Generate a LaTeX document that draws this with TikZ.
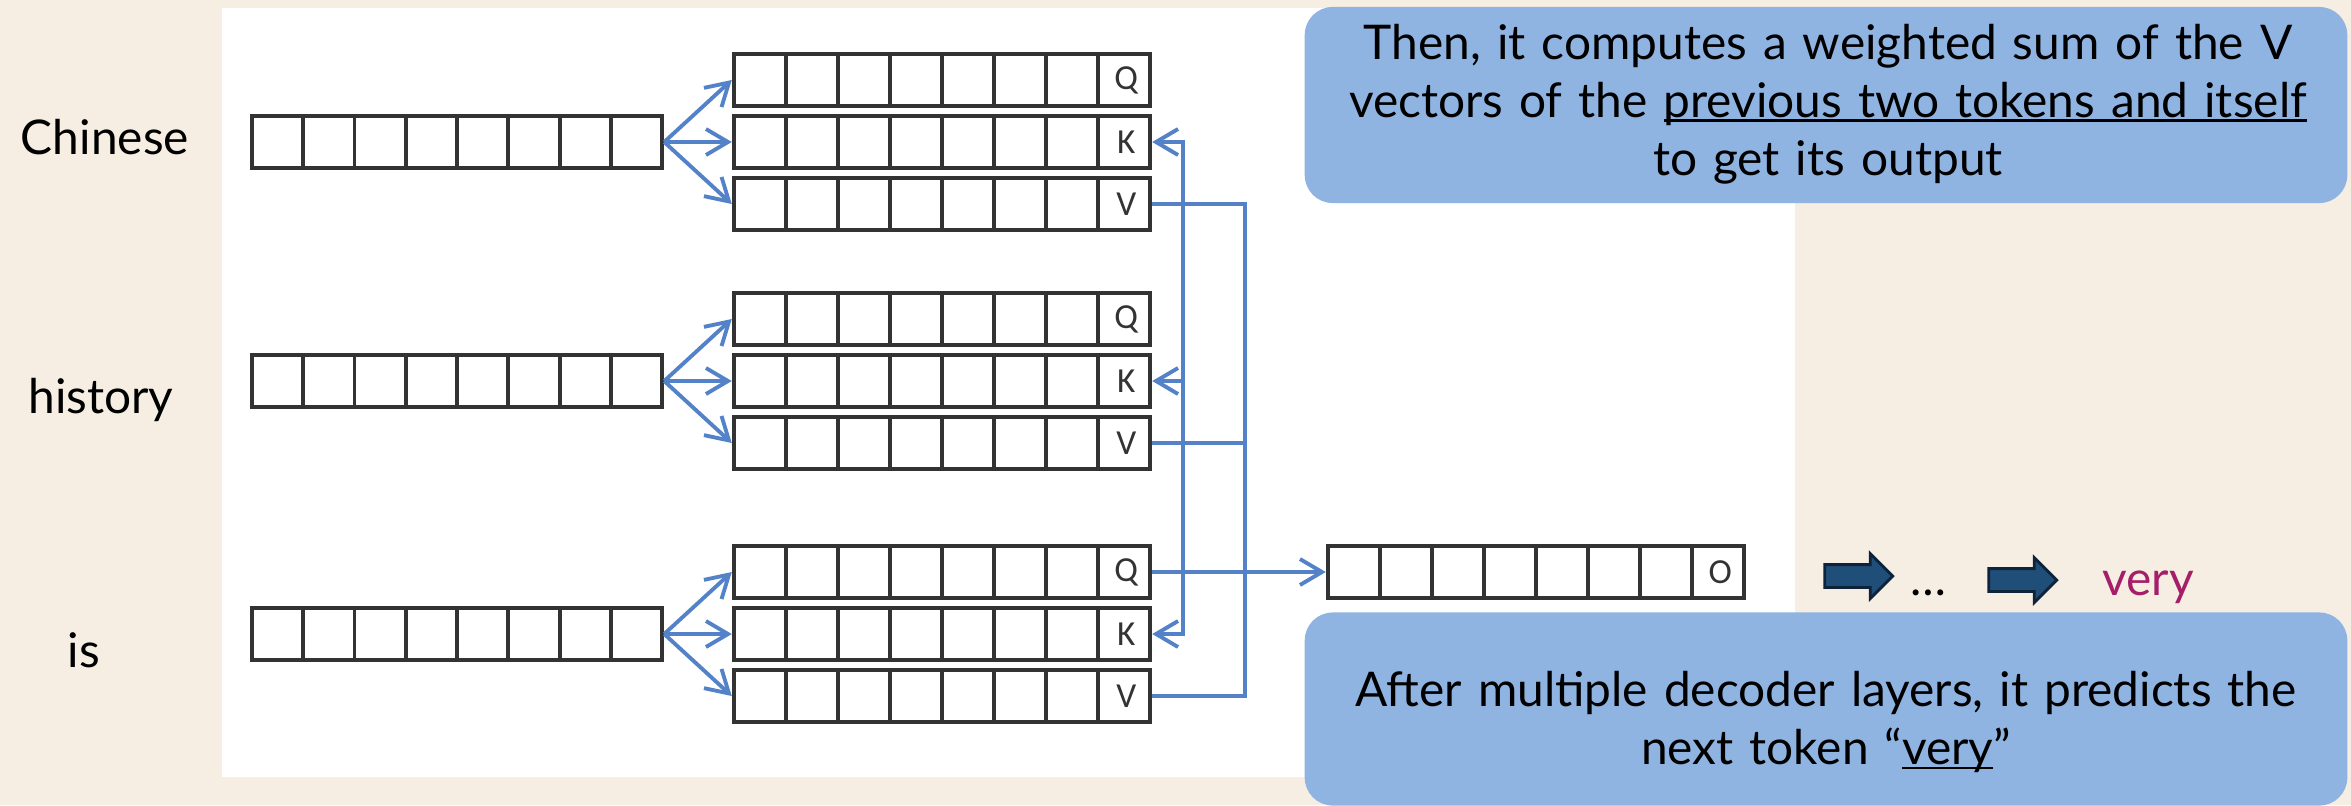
\documentclass[tikz,border=0pt]{standalone}
\usepackage{fontspec}
\setmainfont{Lato}
\newfontfamily\tagfont{Carlito}
\usetikzlibrary{arrows.meta, calc, shapes.arrows}
\definecolor{paper}{RGB}{246,238,226}
\definecolor{noteblue}{RGB}{143,180,226}
\definecolor{linkblue}{RGB}{84,130,200}
\definecolor{arrowblue}{RGB}{31,78,121}
\definecolor{arrowedge}{RGB}{14,34,58}
\definecolor{tokenred}{RGB}{165,30,105}
\newcommand{\txtsize}{\fontsize{13.6pt}{16.5pt}\selectfont}
% thin underline set close to the baseline
\newcommand{\uword}[1]{\setbox0\hbox{#1}\rlap{\rule[-0.09em]{\wd0}{0.045em}}\box0}
\tikzset{%
  >={Straight Barb[length=2.2mm,width=2.6mm]},
  % a vector is a row of eight cells
  vec/.style = {rectangle, draw=black!80, line width=1.2pt, fill=white,
                minimum width=4.16cm, minimum height=0.52cm, inner sep=0pt,
                path picture={\foreach \i in {1,...,7}
                  \draw[line width=1.1pt, black!80]
                    ($(path picture bounding box.south west)!\i/8!(path picture bounding box.south east)$) --
                    ($(path picture bounding box.north west)!\i/8!(path picture bounding box.north east)$);}},
  invec/.style = {vec, minimum width=4.1cm},
  tag/.style = {font=\tagfont\fontsize{10pt}{11pt}\selectfont, text=black!80},
  link/.style = {draw=linkblue, line width=1.1pt},
  word/.style = {font=\txtsize, anchor=base},
  note/.style = {rectangle, rounded corners=0.28cm, fill=noteblue,
                 minimum width=10.42cm, inner sep=0pt},
  notetext/.style = {font=\txtsize, text width=10.3cm, align=center, inner sep=0pt},
  bigarrow/.style = {single arrow, draw=arrowedge, fill=arrowblue, line width=0.8pt,
                     minimum height=0.68cm, single arrow head extend=0.11cm, inner sep=0.1cm},
}

\begin{document}
\begin{tikzpicture}[x=0.01cm, y=-0.01cm]
  \useasboundingbox (0,0) rectangle (2351,805);
  \fill[paper] (0,0) rectangle (2351,805);
  \fill[white] (222,8) rectangle (1795,777);

  % tokens
  \node (w1) [word] at (105,154) {Chinese};
  \node (w2) [word] at (101,413) {history};
  \node (w3) [word] at (84,667) {is};

  % input vectors with their Q, K and V rows
  \foreach \n/\y in {1/142, 2/381, 3/634} {
    \node (in\n) [invec] at (457,\y) {};
    \node (q\n)  [vec] at (942,{\y-62}) {};
    \node (k\n)  [vec] at (942,\y) {};
    \node (v\n)  [vec] at (942,{\y+62}) {};
    \node (tq\n) [tag] at ([xshift=-0.26cm]q\n.east) {Q};
    \node (tk\n) [tag] at ([xshift=-0.26cm]k\n.east) {K};
    \node (tv\n) [tag] at ([xshift=-0.26cm]v\n.east) {V};
    \draw[link, ->] (in\n.east) -- (q\n.west);
    \draw[link, ->] (in\n.east) -- (k\n.west);
    \draw[link, ->] (in\n.east) -- (v\n.west);
  }

  % output vector
  \node (out) [vec] at (1536,572) {};
  \node (to)  [tag] at ([xshift=-0.26cm]out.east) {O};

  % K and V buses
  \coordinate (kbus) at (1183,0);
  \coordinate (vbus) at (1245,0);
  \draw[link, <->] (k1.east) -- (k1.east -| kbus) -- (k3.east -| kbus) -- (k3.east);
  \draw[link, ->]  (k2.east -| kbus) -- (k2.east);
  \draw[link] (v1.east) -- (v1.east -| vbus) -- (v3.east -| vbus) -- (v3.east);
  \draw[link] (v2.east) -- (v2.east -| vbus);
  \draw[link, ->] (q3.east) -- (out.west);

  % next steps
  \node (ar1)  [bigarrow] at (1853,576) {};
  \node (dots) [word] at (1928,595) {…};
  \node (ar2)  [bigarrow] at (2017,580) {};
  \node (next) [word, anchor=base west, text=tokenred] at (2090,595) {very};

  % notes
  \node (sumnote) [note, minimum height=1.96cm] at (1826,105) {};
  \node (sumtext) [notetext] at (1828,104)
    {Then, it computes a weighted sum of the V\\
     vectors of the \uword{previous two tokens and itself}\\
     to get its output};
  \node (prednote) [note, minimum height=1.93cm] at (1826,709) {};
  \node (predtext) [notetext] at (1826,722)
    {After multiple decoder layers, it predicts the\\
     next token “\uword{very}”};
\end{tikzpicture}
\end{document}
